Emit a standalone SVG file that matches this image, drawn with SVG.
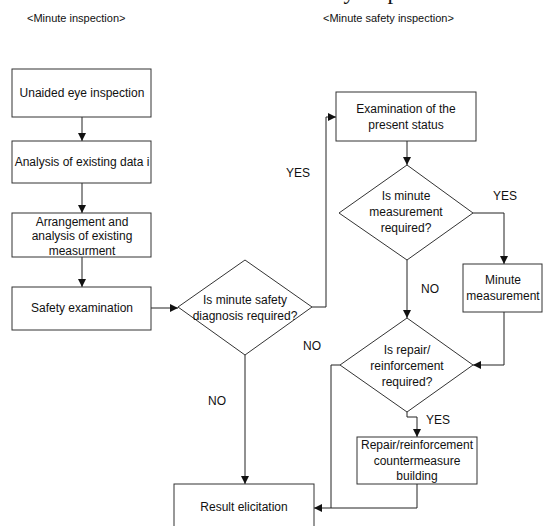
<svg xmlns="http://www.w3.org/2000/svg" width="543" height="526" viewBox="0 0 543 526">
<defs>
<marker id="ah" viewBox="0 0 10 10" refX="10" refY="5" markerWidth="8" markerHeight="8" markerUnits="userSpaceOnUse" orient="auto">
<path d="M0,0 L10,5 L0,10 Z" fill="#111"/>
</marker>
</defs>
<style>
text{font-family:"Liberation Sans",Arial,sans-serif;font-size:12px;fill:#111;text-anchor:middle}
.hdr{font-size:11px;text-anchor:start}
.lbl{text-anchor:middle}
.box{fill:#fff;stroke:#333;stroke-width:1}
.conn{fill:none;stroke:#222;stroke-width:1}
.serif{font-family:"Liberation Serif","Times New Roman",serif;font-size:23px;text-anchor:start}
</style>
<rect width="543" height="526" fill="#fff"/>
<text class="serif" x="300" y="-1">safety inspection</text>
<text class="hdr" x="27" y="22">&lt;Minute inspection&gt;</text>
<text class="hdr" x="323" y="22">&lt;Minute safety inspection&gt;</text>

<g id="connectors">
<path class="conn" d="M82,117 V141" marker-end="url(#ah)"/>
<path class="conn" d="M82,183 V213" marker-end="url(#ah)"/>
<path class="conn" d="M82,257 V287" marker-end="url(#ah)"/>
<path class="conn" d="M151,308 H178" marker-end="url(#ah)"/>
<path class="conn" d="M312,307 H326 V117 H336" marker-end="url(#ah)"/>
<path class="conn" d="M407,141 V165" marker-end="url(#ah)"/>
<path class="conn" d="M473,213 H504 V264" marker-end="url(#ah)"/>
<path class="conn" d="M407,260 V318" marker-end="url(#ah)"/>
<path class="conn" d="M504,312 V365 H473" marker-end="url(#ah)"/>
<path class="conn" d="M407,412 V417 H417 V437" marker-end="url(#ah)"/>
<path class="conn" d="M417,484 V508 H314" marker-end="url(#ah)"/>
<path class="conn" d="M340,365 H331 V508"/>
<path class="conn" d="M245,355 V484" marker-end="url(#ah)"/>
<text class="lbl" x="298" y="177">YES</text>
<text class="lbl" x="505" y="200">YES</text>
<text class="lbl" x="430" y="293">NO</text>
<text class="lbl" x="312" y="350">NO</text>
<text class="lbl" x="217" y="405">NO</text>
<text class="lbl" x="438" y="424">YES</text>
</g>

<g id="n1"><rect class="box" x="12" y="69" width="139" height="48"/><text x="82" y="97">Unaided eye inspection</text></g>
<g id="n2"><rect class="box" x="12" y="141" width="139" height="42"/><text x="82" y="166">Analysis of existing data i</text></g>
<g id="n3"><rect class="box" x="12" y="213" width="139" height="44"/><text x="82" y="226">Arrangement and</text><text x="82" y="240">analysis of existing</text><text x="82" y="255">measurment</text></g>
<g id="n4"><rect class="box" x="12" y="287" width="139" height="43"/><text x="82" y="312">Safety examination</text></g>
<g id="d1"><polygon class="box" points="245,260 312,307 245,355 178,307"/><text x="245" y="304">Is minute safety</text><text x="245" y="320">diagnosis required?</text></g>
<g id="n5"><rect class="box" x="336" y="92" width="140" height="49"/><text x="406" y="113">Examination of the</text><text x="406" y="129">present status</text></g>
<g id="d2"><polygon class="box" points="407,165 473,213 407,260 339,213"/><text x="406" y="200">Is minute</text><text x="406" y="216">measurement</text><text x="406" y="232">required?</text></g>
<g id="n6"><rect class="box" x="463" y="264" width="79" height="48"/><text x="503" y="284">Minute</text><text x="503" y="300">measurement</text></g>
<g id="d3"><polygon class="box" points="407,318 473,365 407,412 340,365"/><text x="407" y="354">Is repair/</text><text x="407" y="370">reinforcement</text><text x="407" y="386">required?</text></g>
<g id="n7"><rect class="box" x="357" y="437" width="120" height="47"/><text x="417" y="449">Repair/reinforcement</text><text x="417" y="465">countermeasure</text><text x="417" y="480">building</text></g>
<g id="n8"><rect class="box" x="174" y="484" width="140" height="60"/><text x="244" y="511">Result elicitation</text></g>
</svg>
